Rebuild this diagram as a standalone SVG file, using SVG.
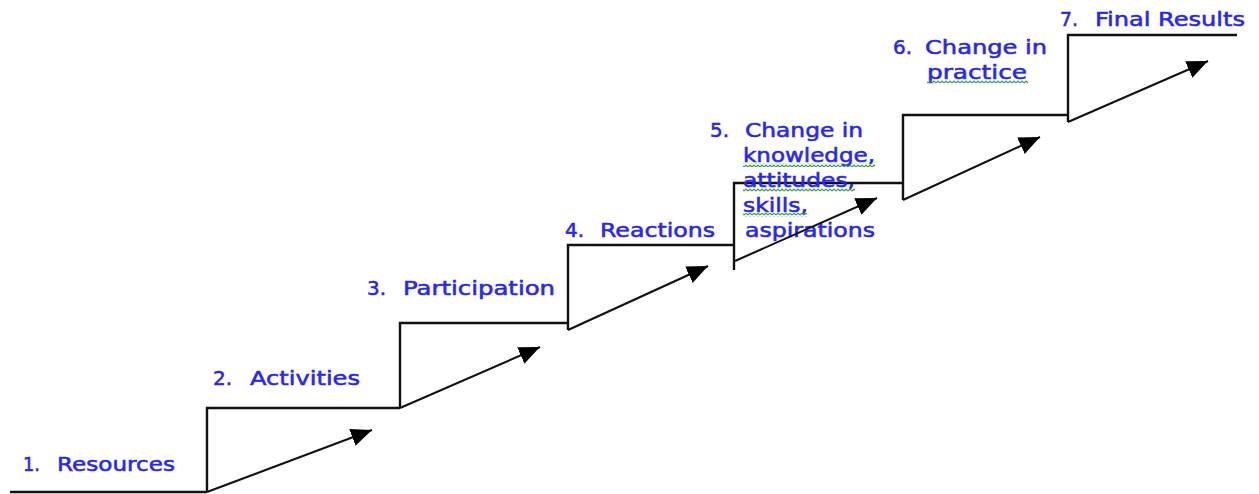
<svg xmlns="http://www.w3.org/2000/svg" width="1259" height="494" viewBox="0 0 1259 494">
<style>
.step{fill:none;stroke:#111;stroke-width:2.4}
.arrow{fill:none;stroke:#111;stroke-width:2}
.lbl{font-family:"DejaVu Sans","Verdana",sans-serif;font-size:20px;fill:#2626f8;stroke:#2626f8;stroke-width:0.55}
.sq{fill:url(#squig)}
</style>
<defs>
<marker id="ah" markerUnits="userSpaceOnUse" markerWidth="24" markerHeight="20" refX="21" refY="9" orient="auto">
<path d="M0,0 L21,9 L0,18 z" fill="#000"/>
</marker>
<pattern id="squig" width="4" height="4" patternUnits="userSpaceOnUse">
<path d="M0,3 L2,1 L4,3" fill="none" stroke="#3a9a3a" stroke-width="1.1"/>
</pattern>
</defs>
<rect width="1259" height="494" fill="#fff"/>
<g id="node1">
<path class="step" d="M10,492 H207"/>
<text class="lbl" x="23" y="471" textLength="17" lengthAdjust="spacingAndGlyphs">1.</text>
<text class="lbl" x="57" y="471" textLength="118" lengthAdjust="spacingAndGlyphs">Resources</text>
</g>
<g id="node2">
<path class="step" d="M207,492 V408 H400"/>
<text class="lbl" x="213" y="385" textLength="19" lengthAdjust="spacingAndGlyphs">2.</text>
<text class="lbl" x="250" y="385" textLength="110" lengthAdjust="spacingAndGlyphs">Activities</text>
</g>
<g id="node3">
<path class="step" d="M400,408 V323 H568"/>
<text class="lbl" x="367" y="295" textLength="19" lengthAdjust="spacingAndGlyphs">3.</text>
<text class="lbl" x="403" y="295" textLength="152" lengthAdjust="spacingAndGlyphs">Participation</text>
</g>
<g id="node4">
<path class="step" d="M568,330 V245 H734"/>
<text class="lbl" x="565" y="237" textLength="19" lengthAdjust="spacingAndGlyphs">4.</text>
<text class="lbl" x="600" y="237" textLength="115" lengthAdjust="spacingAndGlyphs">Reactions</text>
</g>
<g id="node5">
<path class="step" d="M734,270 V183 H903"/>
<text class="lbl" x="710" y="137" textLength="19" lengthAdjust="spacingAndGlyphs">5.</text>
<text class="lbl" x="745" y="137" textLength="118" lengthAdjust="spacingAndGlyphs">Change in</text>
<text class="lbl" x="743" y="162" textLength="132" lengthAdjust="spacingAndGlyphs">knowledge,</text>
<text class="lbl" x="743" y="187" textLength="112" lengthAdjust="spacingAndGlyphs">attitudes,</text>
<text class="lbl" x="743" y="212" textLength="65" lengthAdjust="spacingAndGlyphs">skills,</text>
<text class="lbl" x="745" y="237" textLength="130" lengthAdjust="spacingAndGlyphs">aspirations</text>
<rect class="sq" x="743" y="163" width="132" height="4"/>
<rect class="sq" x="743" y="188" width="112" height="4"/>
<rect class="sq" x="743" y="213" width="64" height="4"/>
</g>
<g id="node6">
<path class="step" d="M903,200 V115 H1068"/>
<text class="lbl" x="893" y="54" textLength="19" lengthAdjust="spacingAndGlyphs">6.</text>
<text class="lbl" x="925" y="54" textLength="122" lengthAdjust="spacingAndGlyphs">Change in</text>
<text class="lbl" x="927" y="79" textLength="100" lengthAdjust="spacingAndGlyphs">practice</text>
<rect class="sq" x="927" y="80" width="101" height="4"/>
</g>
<g id="node7">
<path class="step" d="M1068,122 V35 H1237"/>
<text class="lbl" x="1060" y="26" textLength="18" lengthAdjust="spacingAndGlyphs">7.</text>
<text class="lbl" x="1095" y="26" textLength="150" lengthAdjust="spacingAndGlyphs">Final Results</text>
</g>
<g id="connectors">
<line class="arrow" x1="207" y1="492" x2="372" y2="430" marker-end="url(#ah)"/>
<line class="arrow" x1="400" y1="408" x2="540" y2="347" marker-end="url(#ah)"/>
<line class="arrow" x1="568" y1="330" x2="708" y2="266" marker-end="url(#ah)"/>
<line class="arrow" x1="735" y1="261" x2="877" y2="198" marker-end="url(#ah)"/>
<line class="arrow" x1="903" y1="200" x2="1040" y2="137" marker-end="url(#ah)"/>
<line class="arrow" x1="1068" y1="122" x2="1208" y2="61" marker-end="url(#ah)"/>
</g>
</svg>
